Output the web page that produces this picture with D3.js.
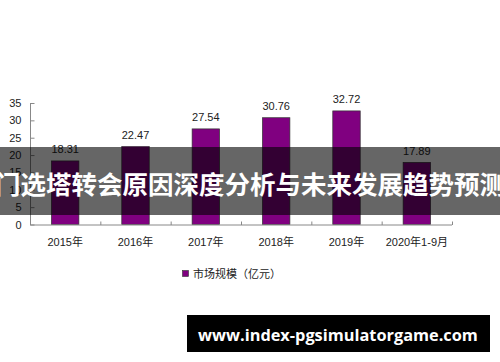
<!DOCTYPE html>
<html>
<head>
<meta charset="utf-8">
<script src="https://cdn.jsdelivr.net/npm/d3@7"></script>
<style>
  body { margin: 0; background: #fff; }
  svg { display: block; }
</style>
</head>
<body>
<svg id="chart" width="500" height="362"></svg>
<script>
// chart data
const categories = ["2015年", "2016年", "2017年", "2018年", "2019年", "2020年1-9月"];
const marketSize = [18.31, 22.47, 27.54, 30.76, 32.72, 17.89];
const yTicks = [0, 5, 10, 15, 20, 25, 30, 35];
const legendLabel = "市场规模（亿元）";
const bannerTitle = "门选塔转会原因深度分析与未来发展趋势预测";
const siteUrl = "www.index-pgsimulatorgame.com";

let svg = d3.select("#chart");
let font = "'Liberation Sans', Arial, 'Noto Sans CJK SC', sans-serif";

let x = d3.scaleBand()
    .domain(categories)
    .range([30, 452])
    .paddingInner(0.61)
    .paddingOuter(0.305);

let y = d3.scaleLinear()
    .domain([0, 35])
    .range([224.5, 103]);

// y axis
let yAxis = svg.append("g")
    .attr("transform", "translate(30.5,0)")
    .call(d3.axisRight(y).tickValues(yTicks).tickSize(4).tickFormat(d => d));
yAxis.select(".domain").attr("stroke", "#888").attr("d", "M0," + y(35) + "V" + y(0));
yAxis.selectAll(".tick line").attr("stroke", "#888");
yAxis.selectAll(".tick text")
    .attr("x", -9)
    .attr("text-anchor", "end")
    .attr("fill", "#222")
    .style("font-family", font)
    .style("font-size", "11px");

// bars
svg.append("g").selectAll("rect")
    .data(marketSize)
    .join("rect")
    .attr("x", (d, i) => x(categories[i]))
    .attr("y", d => y(d))
    .attr("width", x.bandwidth())
    .attr("height", d => y(0) - y(d))
    .attr("fill", "#800080")
    .attr("stroke", "#333")
    .attr("stroke-width", 0.7);

// value labels
svg.append("g").selectAll("text")
    .data(marketSize)
    .join("text")
    .attr("x", (d, i) => x(categories[i]) + x.bandwidth() / 2)
    .attr("y", d => y(d) - 7.5)
    .attr("text-anchor", "middle")
    .attr("fill", "#222")
    .style("font-family", font)
    .style("font-size", "11px")
    .text(d => d.toFixed(2));

// x axis (ticks between categories, pointing up)
let xg = svg.append("g");
xg.append("line")
    .attr("x1", 30).attr("x2", 452)
    .attr("y1", y(0) + 0.5).attr("y2", y(0) + 0.5)
    .attr("stroke", "#888");
let step = x.step();
xg.selectAll("line.tk")
    .data(d3.range(categories.length + 1))
    .join("line")
    .attr("class", "tk")
    .attr("x1", i => 30.5 + i * step).attr("x2", i => 30.5 + i * step)
    .attr("y1", y(0) + 0.5).attr("y2", y(0) - 3)
    .attr("stroke", "#888");
xg.selectAll("text")
    .data(categories)
    .join("text")
    .attr("x", d => x(d) + x.bandwidth() / 2)
    .attr("y", 246)
    .attr("text-anchor", "middle")
    .attr("fill", "#222")
    .style("font-family", font)
    .style("font-size", "11px")
    .text(d => d);

// legend
let lg = svg.append("g");
lg.append("rect")
    .attr("x", 182.5).attr("y", 270.5)
    .attr("width", 6).attr("height", 6)
    .attr("fill", "#800080")
    .attr("stroke", "#333")
    .attr("stroke-width", 0.6);
lg.append("text")
    .attr("x", 193)
    .attr("y", 277.5)
    .attr("fill", "#222")
    .style("font-family", font)
    .style("font-size", "11px")
    .text(legendLabel);

// banner overlay
svg.append("rect")
    .attr("x", 0).attr("y", 147)
    .attr("width", 500).attr("height", 68)
    .attr("fill", "rgba(0,0,0,0.6)");
svg.append("text")
    .attr("x", 250)
    .attr("y", 194)
    .attr("text-anchor", "middle")
    .attr("fill", "#fff")
    .style("font-family", "'Noto Sans CJK SC', sans-serif")
    .style("font-weight", "bold")
    .style("font-size", "25.5px")
    .text(bannerTitle);

// url box
svg.append("rect")
    .attr("x", 187).attr("y", 315)
    .attr("width", 303).attr("height", 37)
    .attr("fill", "#000");
let url = svg.append("text")
    .attr("x", 338)
    .attr("y", 341)
    .attr("text-anchor", "middle")
    .attr("fill", "#fff")
    .style("font-family", "'Open Sans', sans-serif")
    .style("font-weight", "bold")
    .style("font-size", "17px")
    .text(siteUrl);
let w = url.node().getComputedTextLength();
url.style("font-size", (17 * 280 / w) + "px");
</script>
</body>
</html>
